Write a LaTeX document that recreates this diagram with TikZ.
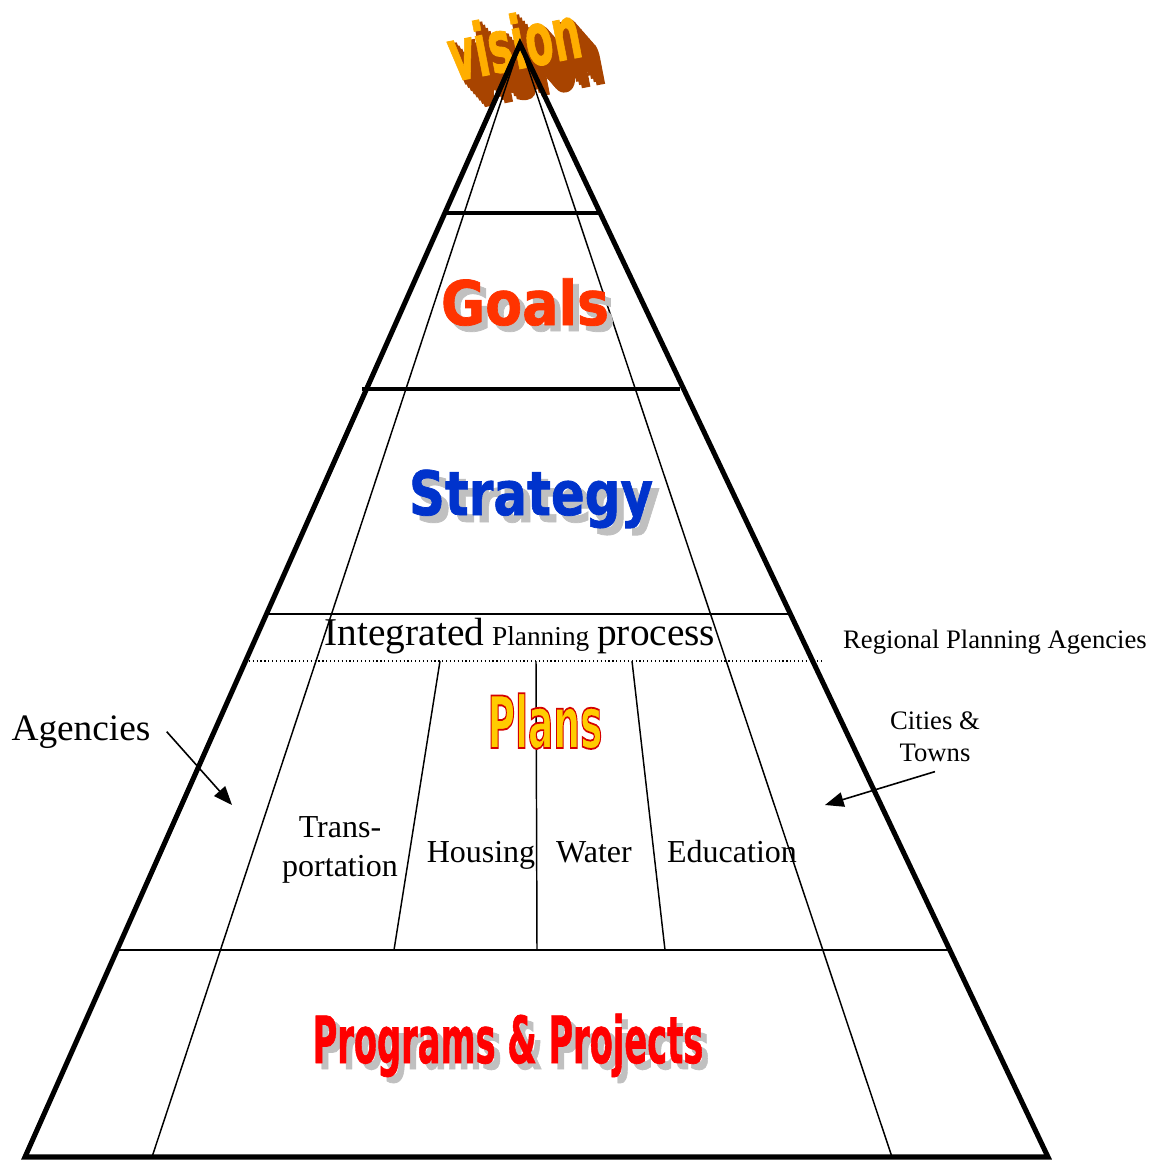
\documentclass[tikz,border=0pt]{standalone}
\usepackage{fontspec}
\usepackage{graphicx}
\setmainfont{Liberation Serif}
\newfontfamily\artfont{DejaVu Sans Bold}[FakeBold=1.2]
\newfontfamily\depthfont{DejaVu Sans Bold}[FakeBold=4]
\newfontfamily\outlinefont{DejaVu Sans Bold}[FakeBold=2.5]
\usetikzlibrary{arrows.meta}

\tikzstyle{outer-edge}=[line width=3.8pt, line join=miter]
\tikzstyle{level-bar}=[line width=3pt]
\tikzstyle{inner-edge}=[line width=1.1pt]
\tikzstyle{band-edge}=[line width=1.6pt]
\tikzstyle{band-dots}=[line width=0.9pt, dotted]
\tikzstyle{plain-text}=[inner sep=0pt, font=\fontsize{24}{29}\selectfont]
\tikzstyle{small-text}=[inner sep=0pt, font=\fontsize{20}{24}\selectfont]
\tikzstyle{art-text}=[inner sep=0pt, font=\artfont]
\tikzstyle{pointer}=[line width=1.2pt, -{Triangle[length=14pt,width=11pt]}]
\definecolor{VisionOrange}{HTML}{FFAE00}
\definecolor{VisionBrown}{HTML}{A84400}
\definecolor{GoalsRed}{HTML}{FF3300}
\definecolor{StrategyBlue}{HTML}{0033CC}
\definecolor{PlansYellow}{HTML}{FFCC00}
\definecolor{PlansRed}{HTML}{D40000}
\definecolor{ProgramsRed}{HTML}{FF0000}
\definecolor{ArtShadow}{HTML}{C0C0C0}

\newcommand{\artword}[3]{\resizebox{#1}{#2}{#3}}
% red stroke round yellow letters
\newcommand{\outlined}[1]{\special{pdf:code 0.83 0 0 RG}{\outlinefont #1}}

\begin{document}
\begin{tikzpicture}[x=0.75pt, y=-0.75pt]
      \useasboundingbox (0,0) rectangle (1153,1160);

      % vision, extruded
      \foreach \i in {8,...,1}
            \node at (514+2.8*\i, 42+3.2*\i) [inner sep=0pt, font=\depthfont, text=VisionBrown, rotate=11] {\artword{100pt}{42pt}{vision}};
      \node (art-vision) at (514,42) [art-text, text=VisionOrange, rotate=11] {\artword{100pt}{42pt}{vision}};

      % pyramid
      \coordinate (apex) at (520,44);
      \coordinate (base-left) at (25,1157);
      \coordinate (base-right) at (1048,1157);
      \coordinate (base-inner-left) at (152,1157);
      \coordinate (base-inner-right) at (892,1157);
      \draw [inner-edge] (apex) -- (base-inner-left);
      \draw [inner-edge] (apex) -- (base-inner-right);
      \draw [outer-edge] (base-left) -- (apex) -- (base-right) -- cycle;

      \draw [level-bar] (443,213) -- (602,213);
      \draw [level-bar] (362,389) -- (680,389);
      \draw [band-edge] (266,614) -- (791,614);
      \draw [band-dots] (245,661) -- (822,661);
      \draw [band-edge] (117,950) -- (950,950);

      \draw [inner-edge] (440,661) -- (394,950);
      \draw [inner-edge] (536,661) -- (537,950);
      \draw [inner-edge] (632,661) -- (665,950);

      % word art
      \node at (531,331) [art-text, text=ArtShadow, anchor=base] {\artword{126pt}{35pt}{Goals}};
      \node (art-goals) at (525,325) [art-text, text=GoalsRed, anchor=base] {\artword{126pt}{35pt}{Goals}};

      \node at (538,522) [art-text, text=ArtShadow, anchor=base] {\artword{183pt}{34pt}{Strategy}};
      \node (art-strategy) at (531,515) [art-text, text=StrategyBlue, anchor=base] {\artword{183pt}{34pt}{Strategy}};

      \node (art-plans) at (545,748) [inner sep=0pt, text=PlansYellow, anchor=base] {\artword{86pt}{41pt}{\outlined{Plans}}};

      \node at (514,1069) [art-text, text=ArtShadow, anchor=base] {\artword{293pt}{37pt}{Programs \& Projects}};
      \node (art-programs) at (508,1063) [art-text, text=ProgramsRed, anchor=base] {\artword{293pt}{37pt}{Programs \& Projects}};

      % labels
      \node (label-integrated) at (520,645) [plain-text, anchor=base]
            {{\fontsize{29.5}{30}\selectfont Integrated} {\fontsize{20.5}{22}\selectfont Planning} {\fontsize{29.5}{30}\selectfont process}};
      \node (label-regional) at (995,648) [small-text, anchor=base] {Regional Planning Agencies};
      \node (label-agencies) at (81,740) [plain-text, anchor=base, font=\fontsize{28}{30}\selectfont] {Agencies};
      \node (label-cities) at (935,737) [small-text, align=center] {Cities \&\\Towns};
      \node (label-transport) at (340,850) [plain-text, align=center] {Trans-\\portation};
      \node (label-housing) at (481,862) [plain-text, anchor=base] {Housing};
      \node (label-water) at (594,862) [plain-text, anchor=base] {Water};
      \node (label-education) at (732,862) [plain-text, anchor=base] {Education};

      \coordinate (agencies-tip) at (232,805);
      \coordinate (cities-tip) at (825,805);
      \draw [pointer] ([xshift=12pt]label-agencies.east) -- (agencies-tip);
      \draw [pointer] ([yshift=-7pt]label-cities.south) -- (cities-tip);
    \end{tikzpicture}
\end{document}
